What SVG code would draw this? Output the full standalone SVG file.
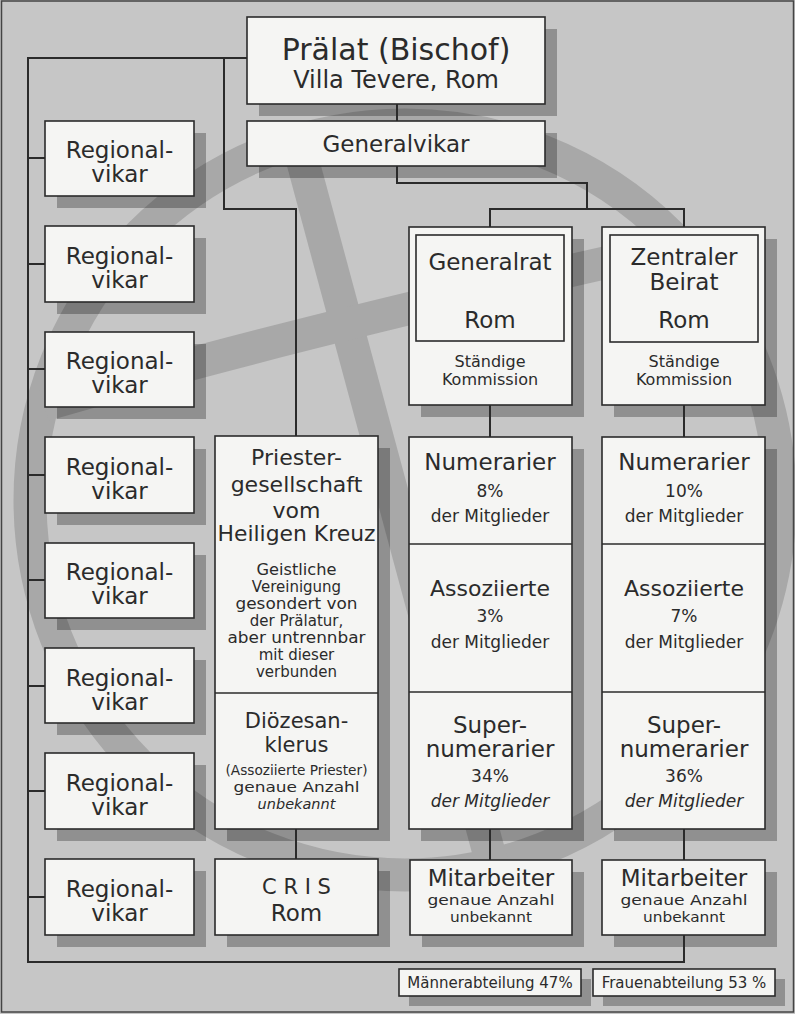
<svg xmlns="http://www.w3.org/2000/svg" width="795" height="1014" viewBox="0 0 795 1014">
<defs>
<style>
.bg{fill:#c6c6c6}
.logo{fill:none;stroke:#a8a8a8;stroke-width:33}
.sh{fill:#000;opacity:.27}
.box{fill:#f5f5f3;stroke:#2b2b2b;stroke-width:1.6}
.conn{fill:none;stroke:#2b2b2b;stroke-width:2}
text{font-family:"DejaVu Sans","Liberation Sans",sans-serif;fill:#2b2b2b;text-anchor:middle}
.t30{font-size:30px}.t24{font-size:24px}.t23{font-size:23px}.t22{font-size:22px}.t21{font-size:21px}
.t17{font-size:17px}.t16{font-size:16px}.t15{font-size:15px}.t14{font-size:14.5px}
.it{font-style:italic}
</style>
</defs>
<rect class="bg" x="0" y="0" width="795" height="1014"/>
<g id="logo">
<circle class="logo" cx="405" cy="500" r="375"/>
<path class="logo" d="M297 140 L495 875"/>
<path class="logo" d="M44 405 Q300 330 685 245"/>
</g>
<rect x="1.5" y="1" width="792" height="1011" fill="none" stroke="#444" stroke-width="1.5"/>

<g id="shadows">
<rect class="sh" x="259" y="29" width="298" height="87"/>
<rect class="sh" x="259" y="133" width="298" height="45"/>
<rect class="sh" x="57" y="133" width="149" height="75"/>
<rect class="sh" x="57" y="238" width="149" height="76"/>
<rect class="sh" x="57" y="344" width="149" height="75"/>
<rect class="sh" x="57" y="449" width="149" height="76"/>
<rect class="sh" x="57" y="555" width="149" height="75"/>
<rect class="sh" x="57" y="660" width="149" height="75"/>
<rect class="sh" x="57" y="765" width="149" height="76"/>
<rect class="sh" x="57" y="871" width="149" height="76"/>
<rect class="sh" x="227" y="448" width="163" height="393"/>
<rect class="sh" x="227" y="871" width="163" height="76"/>
<rect class="sh" x="421" y="239" width="163" height="178"/>
<rect class="sh" x="614" y="239" width="163" height="178"/>
<rect class="sh" x="421" y="449" width="163" height="392"/>
<rect class="sh" x="614" y="449" width="163" height="392"/>
<rect class="sh" x="422" y="872" width="162" height="75"/>
<rect class="sh" x="614" y="872" width="163" height="75"/>
<rect class="sh" x="409" y="979" width="182" height="27"/>
<rect class="sh" x="603" y="979" width="182" height="27"/>
</g>

<g id="connectors">
<path class="conn" d="M247 58 H28 V962 H684 V935"/>
<path class="conn" d="M224 58 V209 H296 V436"/>
<path class="conn" d="M397 104 V121"/>
<path class="conn" d="M397 166 V183 H587 V209"/>
<path class="conn" d="M490 227 V209 H684 V227"/>
<path class="conn" d="M28 158 H45 M28 264 H45 M28 369 H45 M28 475 H45 M28 580 H45 M28 686 H45 M28 791 H45 M28 897 H45"/>
<path class="conn" d="M490 405 V437 M684 405 V437"/>
<path class="conn" d="M490 829 V860 M684 829 V860"/>
<path class="conn" d="M296 829 V859"/>
</g>

<g id="praelat">
<rect class="box" x="247" y="17" width="298" height="87"/>
<text class="t30" x="396" y="60">Prälat (Bischof)</text>
<text class="t24" x="396" y="88">Villa Tevere, Rom</text>
</g>
<g id="generalvikar">
<rect class="box" x="247" y="121" width="298" height="45"/>
<text class="t23" x="396" y="152">Generalvikar</text>
</g>

<g id="regionalvikar1"><rect class="box" x="45" y="121" width="149" height="75"/><text class="t23" x="119.5" y="158">Regional-</text><text class="t23" x="119.5" y="182">vikar</text></g>
<g id="regionalvikar2"><rect class="box" x="45" y="226" width="149" height="76"/><text class="t23" x="119.5" y="264">Regional-</text><text class="t23" x="119.5" y="288">vikar</text></g>
<g id="regionalvikar3"><rect class="box" x="45" y="332" width="149" height="75"/><text class="t23" x="119.5" y="369">Regional-</text><text class="t23" x="119.5" y="393">vikar</text></g>
<g id="regionalvikar4"><rect class="box" x="45" y="437" width="149" height="76"/><text class="t23" x="119.5" y="475">Regional-</text><text class="t23" x="119.5" y="499">vikar</text></g>
<g id="regionalvikar5"><rect class="box" x="45" y="543" width="149" height="75"/><text class="t23" x="119.5" y="580">Regional-</text><text class="t23" x="119.5" y="604">vikar</text></g>
<g id="regionalvikar6"><rect class="box" x="45" y="648" width="149" height="75"/><text class="t23" x="119.5" y="686">Regional-</text><text class="t23" x="119.5" y="710">vikar</text></g>
<g id="regionalvikar7"><rect class="box" x="45" y="753" width="149" height="76"/><text class="t23" x="119.5" y="791">Regional-</text><text class="t23" x="119.5" y="815">vikar</text></g>
<g id="regionalvikar8"><rect class="box" x="45" y="859" width="149" height="76"/><text class="t23" x="119.5" y="897">Regional-</text><text class="t23" x="119.5" y="921">vikar</text></g>

<g id="priestergesellschaft">
<rect class="box" x="215" y="436" width="163" height="393"/>
<line x1="215" y1="693" x2="378" y2="693" stroke="#2b2b2b" stroke-width="1.6"/>
<text class="t22" x="296.5" y="465">Priester-</text>
<text class="t22" x="296.5" y="492">gesellschaft</text>
<text class="t22" x="296.5" y="518">vom</text>
<text class="t22" x="296.5" y="541" textLength="158" lengthAdjust="spacingAndGlyphs">Heiligen Kreuz</text>
<text class="t15" x="296.5" y="575" textLength="80" lengthAdjust="spacingAndGlyphs">Geistliche</text>
<text class="t15" x="296.5" y="592">Vereinigung</text>
<text class="t15" x="296.5" y="609" textLength="122" lengthAdjust="spacingAndGlyphs">gesondert von</text>
<text class="t15" x="296.5" y="626">der Prälatur,</text>
<text class="t15" x="296.5" y="643" textLength="138" lengthAdjust="spacingAndGlyphs">aber untrennbar</text>
<text class="t15" x="296.5" y="660">mit dieser</text>
<text class="t15" x="296.5" y="677">verbunden</text>
<text class="t21" x="296.5" y="728">Diözesan-</text>
<text class="t21" x="296.5" y="752">klerus</text>
<text class="t14" x="296.5" y="775" textLength="142" lengthAdjust="spacingAndGlyphs">(Assoziierte Priester)</text>
<text class="t14" x="296.5" y="792" textLength="126" lengthAdjust="spacingAndGlyphs">genaue Anzahl</text>
<text class="t14 it" x="296.5" y="809">unbekannt</text>
</g>
<g id="cris">
<rect class="box" x="215" y="859" width="163" height="76"/>
<text class="t21" x="296.5" y="894">C R I S</text>
<text class="t23" x="296.5" y="921">Rom</text>
</g>

<g id="generalrat">
<rect class="box" x="409" y="227" width="163" height="178"/>
<rect class="box" x="416" y="235" width="148" height="106"/>
<text class="t23" x="490" y="270">Generalrat</text>
<text class="t23" x="490" y="328">Rom</text>
<text class="t16" x="490" y="367">Ständige</text>
<text class="t16" x="490" y="385">Kommission</text>
</g>
<g id="zentraler-beirat">
<rect class="box" x="602" y="227" width="163" height="178"/>
<rect class="box" x="610" y="235" width="148" height="107"/>
<text class="t23" x="684" y="265">Zentraler</text>
<text class="t23" x="684" y="290">Beirat</text>
<text class="t23" x="684" y="328">Rom</text>
<text class="t16" x="684" y="367">Ständige</text>
<text class="t16" x="684" y="385">Kommission</text>
</g>

<g id="maenner-mitglieder">
<rect class="box" x="409" y="437" width="163" height="392"/>
<line x1="409" y1="544" x2="572" y2="544" stroke="#2b2b2b" stroke-width="1.6"/>
<line x1="409" y1="692" x2="572" y2="692" stroke="#2b2b2b" stroke-width="1.6"/>
<text class="t23" x="490" y="470">Numerarier</text>
<text class="t17" x="490" y="497">8%</text>
<text class="t17" x="490" y="522">der Mitglieder</text>
<text class="t22" x="490" y="596">Assoziierte</text>
<text class="t17" x="490" y="622">3%</text>
<text class="t17" x="490" y="648">der Mitglieder</text>
<text class="t23" x="490" y="733">Super-</text>
<text class="t23" x="490" y="757">numerarier</text>
<text class="t17" x="490" y="782">34%</text>
<text class="t17 it" x="490" y="807">der Mitglieder</text>
</g>
<g id="frauen-mitglieder">
<rect class="box" x="602" y="437" width="163" height="392"/>
<line x1="602" y1="544" x2="765" y2="544" stroke="#2b2b2b" stroke-width="1.6"/>
<line x1="602" y1="692" x2="765" y2="692" stroke="#2b2b2b" stroke-width="1.6"/>
<text class="t23" x="684" y="470">Numerarier</text>
<text class="t17" x="684" y="497">10%</text>
<text class="t17" x="684" y="522">der Mitglieder</text>
<text class="t22" x="684" y="596">Assoziierte</text>
<text class="t17" x="684" y="622">7%</text>
<text class="t17" x="684" y="648">der Mitglieder</text>
<text class="t23" x="684" y="733">Super-</text>
<text class="t23" x="684" y="757">numerarier</text>
<text class="t17" x="684" y="782">36%</text>
<text class="t17 it" x="684" y="807">der Mitglieder</text>
</g>

<g id="mitarbeiter-maenner">
<rect class="box" x="410" y="860" width="162" height="75"/>
<text class="t23" x="491" y="886">Mitarbeiter</text>
<text class="t14" x="491" y="905" textLength="127" lengthAdjust="spacingAndGlyphs">genaue Anzahl</text>
<text class="t14" x="491" y="922" textLength="82" lengthAdjust="spacingAndGlyphs">unbekannt</text>
</g>
<g id="mitarbeiter-frauen">
<rect class="box" x="602" y="860" width="163" height="75"/>
<text class="t23" x="684" y="886">Mitarbeiter</text>
<text class="t14" x="684" y="905" textLength="127" lengthAdjust="spacingAndGlyphs">genaue Anzahl</text>
<text class="t14" x="684" y="922" textLength="82" lengthAdjust="spacingAndGlyphs">unbekannt</text>
</g>

<g id="maennerabteilung">
<rect class="box" x="399" y="969" width="182" height="27"/>
<text class="t15" x="490" y="988">Männerabteilung 47%</text>
</g>
<g id="frauenabteilung">
<rect class="box" x="593" y="969" width="182" height="27"/>
<text class="t15" x="684" y="988">Frauenabteilung 53 %</text>
</g>
</svg>
